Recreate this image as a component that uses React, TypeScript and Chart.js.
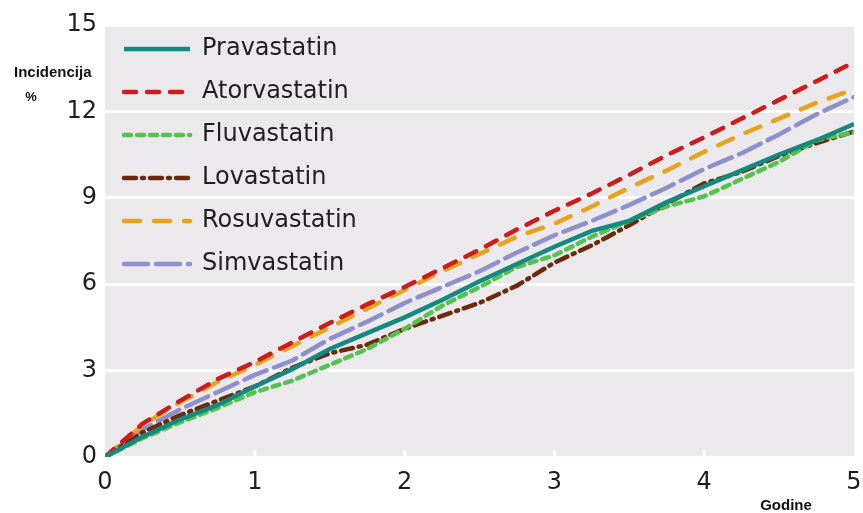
import React, { useEffect, useRef } from "react";
import { Chart, registerables } from "chart.js";

Chart.register(...registerables);

const years = [0, 0.25, 0.5, 0.75, 1, 1.25, 1.5, 1.75, 2, 2.25, 2.5, 2.75, 3, 3.25, 3.5, 3.75, 4, 4.25, 4.5, 4.75, 5];

const pravastatin = [0, 0.7, 1.3, 1.8, 2.45, 3.05, 3.75, 4.3, 4.85, 5.45, 6.1, 6.7, 7.3, 7.85, 8.2, 8.85, 9.4, 9.95, 10.5, 11.0, 11.56];
const atorvastatin = [0, 1.15, 1.95, 2.7, 3.3, 3.98, 4.65, 5.3, 5.9, 6.55, 7.2, 7.9, 8.55, 9.15, 9.8, 10.48, 11.1, 11.75, 12.4, 13.05, 13.71];
const fluvastatin = [0, 0.65, 1.2, 1.7, 2.25, 2.65, 3.2, 3.75, 4.45, 5.25, 5.9, 6.6, 7.0, 7.65, 8.2, 8.7, 9.05, 9.65, 10.25, 11.0, 11.28];
const lovastatin = [0, 0.85, 1.45, 1.95, 2.45, 3.1, 3.6, 3.9, 4.45, 4.9, 5.35, 5.95, 6.75, 7.35, 8.05, 8.8, 9.5, 9.9, 10.45, 10.9, 11.3];
const rosuvastatin = [0, 1.1, 1.9, 2.6, 3.2, 3.85, 4.5, 5.15, 5.8, 6.45, 7.05, 7.65, 8.1, 8.7, 9.35, 9.95, 10.6, 11.2, 11.75, 12.3, 12.77];
const simvastatin = [0, 0.95, 1.65, 2.25, 2.85, 3.35, 4.1, 4.7, 5.35, 5.9, 6.45, 7.1, 7.7, 8.2, 8.75, 9.35, 10.0, 10.55, 11.2, 11.9, 12.5];

const seriesNames = ["Pravastatin", "Atorvastatin", "Fluvastatin", "Lovastatin", "Rosuvastatin", "Simvastatin"];
const seriesValues = [pravastatin, atorvastatin, fluvastatin, lovastatin, rosuvastatin, simvastatin];
const seriesColors = ["#14897f", "#cc1c1c", "#55c24f", "#6c2a0c", "#e8a31c", "#8f8fcb"];
const seriesDashes = [[], [12, 11], [7, 6], [12, 6, 2, 6], [16, 14], [24, 8]];

const xTickValues = [0, 1, 2, 3, 4, 5];
const yTickValues = [0, 3, 6, 9, 12, 15];
const yAxisTitle = ["Incidencija", "%"];
const xAxisTitle = "Godine";

const decorPlugin = {
  id: "decor",
  beforeDraw(chart: any) {
    const { ctx, chartArea } = chart;
    ctx.save();
    ctx.fillStyle = "#ebe9ec";
    ctx.fillRect(chartArea.left, chartArea.top, chartArea.right - chartArea.left, chartArea.bottom - chartArea.top);
    ctx.restore();
  },
  afterLayout(chart: any) {
    const lg = chart.legend;
    if (lg) {
      lg.top += 18;
      lg.bottom += 18;
    }
  },
  beforeDatasetsDraw(chart: any) {
    const { ctx, chartArea, scales } = chart;
    ctx.save();
    ctx.strokeStyle = "#ffffff";
    ctx.lineWidth = 3;
    xTickValues.slice(1, -1).forEach((v) => {
      const px = scales.x.getPixelForValue(v);
      ctx.beginPath();
      ctx.moveTo(px, chartArea.bottom - 7);
      ctx.lineTo(px, chartArea.bottom);
      ctx.stroke();
    });
    ctx.restore();
  },
  afterDraw(chart: any) {
    const { ctx } = chart;
    ctx.save();
    ctx.fillStyle = "#111";
    ctx.font = "bold 15px 'Liberation Sans', Arial, sans-serif";
    ctx.textBaseline = "middle";
    ctx.textAlign = "left";
    ctx.fillText(yAxisTitle[0], 14, 73);
    ctx.font = "bold 13px 'Liberation Sans', Arial, sans-serif";
    ctx.textAlign = "center";
    ctx.fillText(yAxisTitle[1], 31, 97);
    ctx.font = "bold 15px 'Liberation Sans', Arial, sans-serif";
    ctx.fillText(xAxisTitle, 786, 506);
    ctx.restore();
  },
};

export default function App() {
  const canvasRef = useRef<HTMLCanvasElement | null>(null);

  useEffect(() => {
    if (!canvasRef.current) return;
    const datasets = seriesNames.map((name, i) => ({
      label: name,
      data: years.map((x, j) => ({ x, y: seriesValues[i][j] })),
      borderColor: seriesColors[i],
      backgroundColor: seriesColors[i],
      borderWidth: 4.5,
      borderDash: seriesDashes[i],
      borderCapStyle: i === 0 ? "butt" : "round",
      pointRadius: 0,
      pointHoverRadius: 0,
      fill: false,
      tension: 0,
    }));

    const chart = new Chart(canvasRef.current, {
      type: "line",
      data: { datasets } as any,
      plugins: [decorPlugin],
      options: {
        animation: false,
        responsive: true,
        maintainAspectRatio: false,
        layout: { padding: { top: 25, right: 9, bottom: 0, left: 0 } },
        font: { family: "'DejaVu Sans', sans-serif" },
        plugins: {
          tooltip: { enabled: false },
          legend: {
            position: "chartArea",
            align: "start",
            labels: {
              usePointStyle: true,
              pointStyle: "line",
              pointStyleWidth: 66,
              padding: 19,
              color: "#1e1e1e",
              font: { family: "'DejaVu Sans', sans-serif", size: 24 },
              generateLabels: (chart: any) => {
                const items = Chart.defaults.plugins.legend.labels.generateLabels(chart);
                return items.map((item: any, i: number) => ({
                  ...item,
                  lineDash: seriesDashes[i],
                  lineWidth: 4.5,
                  strokeStyle: seriesColors[i],
                  fillStyle: seriesColors[i],
                  lineCap: i === 0 ? "butt" : "round",
                  pointStyle: "line",
                }));
              },
            },
          },
        },
        scales: {
          x: {
            type: "linear",
            min: 0,
            max: 5,
            grid: { display: false, drawTicks: false },
            border: { display: false },
            afterBuildTicks: (scale: any) => {
              scale.ticks = xTickValues.map((v) => ({ value: v }));
            },
            afterFit: (scale: any) => {
              scale.height = 56;
              scale.paddingRight = 0;
              scale.paddingLeft = 0;
            },
            ticks: {
              padding: 11,
              color: "#1e1e1e",
              maxRotation: 0,
              font: { family: "'DejaVu Sans', sans-serif", size: 24 },
            },
          },
          y: {
            type: "linear",
            min: 0,
            max: 15,
            grid: { color: "#ffffff", lineWidth: 3, drawTicks: false },
            border: { display: false },
            afterBuildTicks: (scale: any) => {
              scale.ticks = yTickValues.map((v) => ({ value: v }));
            },
            afterFit: (scale: any) => {
              scale.width = 105;
            },
            ticks: {
              padding: 8,
              color: "#1e1e1e",
              font: { family: "'DejaVu Sans', sans-serif", size: 24 },
            },
          },
        },
      } as any,
    });
    return () => chart.destroy();
  }, []);

  return (
    <div style={{ position: "absolute", left: 0, top: 0, width: 863, height: 513 }}>
      <canvas ref={canvasRef} />
    </div>
  );
}
